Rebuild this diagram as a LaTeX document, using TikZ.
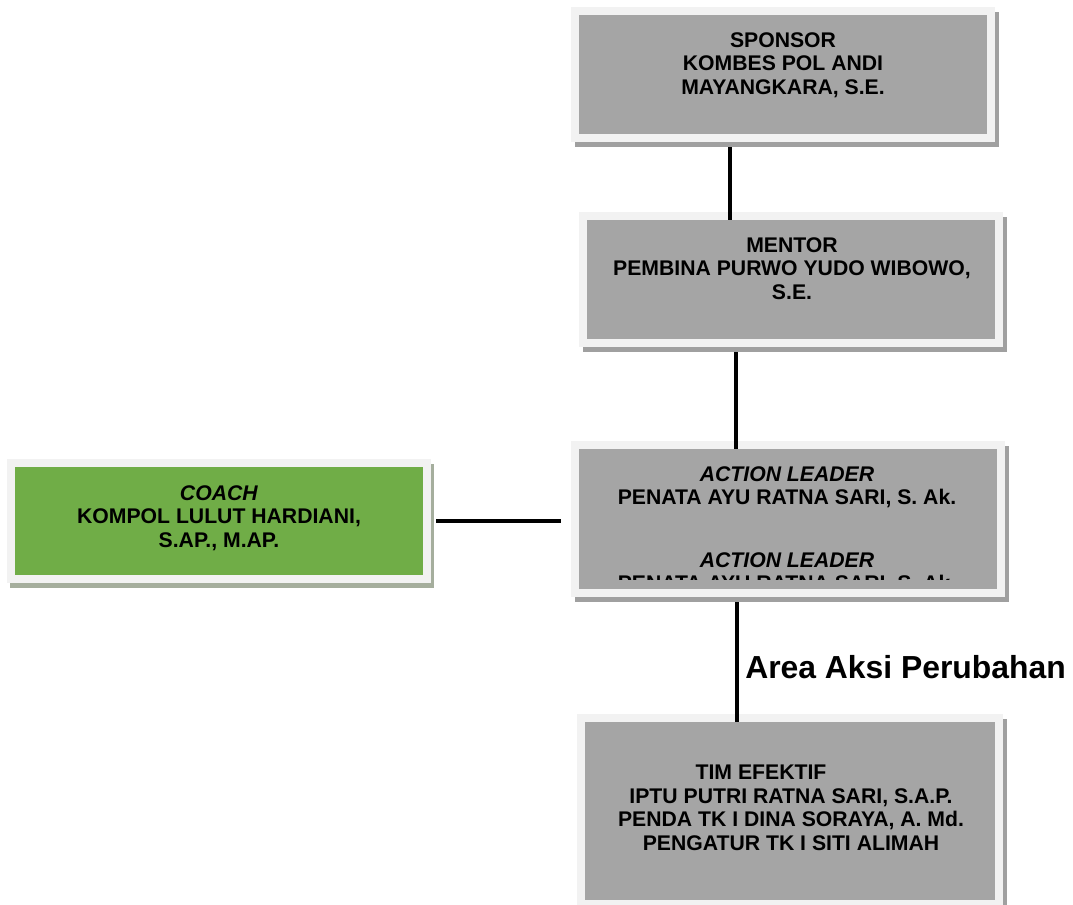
\documentclass[tikz,border=0pt]{standalone}
\usepackage{fontspec}
\setmainfont{Liberation Sans}
\usetikzlibrary{fit}
\definecolor{framegray}{HTML}{F2F2F2}
\definecolor{fillgray}{HTML}{A5A5A5}
\definecolor{shadegray}{HTML}{A0A0A0}
\definecolor{coachgreen}{HTML}{70AD47}
\definecolor{coachshade}{HTML}{A5AE9D}
\begin{document}
\begin{tikzpicture}[x=0.75pt,y=-0.75pt,
  shadowbox/.style={fill=shadegray, draw=none, inner sep=0pt, outer sep=0pt},
  framebox/.style={fill=framegray, draw=none, inner sep=0pt, outer sep=0pt},
  infill/.style={fill=fillgray, draw=none, inner sep=0pt, outer sep=0pt},
  boxtext/.style={anchor=north, inner sep=0pt, align=center, text=black,
    font=\fontsize{15.9}{17.6}\selectfont\bfseries},
  conn/.style={draw=black, line width=3pt},
  arealabel/.style={anchor=base west, inner sep=0pt,
    font=\fontsize{23.9}{27}\selectfont\bfseries}
]
\useasboundingbox (0,0) rectangle (1073,904);
\fill[white] (0,0) rectangle (1073,904);

% Sponsor
\node[shadowbox, fit={(575,12)(999,147)}] (sponsorsh) {};
\node[framebox, fit={(571,7)(995,142)}] (sponsor) {};
\node[infill, fit={(579,15)(987,134)}] (sponsorin) {};
\node[boxtext] (sponsortxt) at (783,32) {SPONSOR\\KOMBES POL ANDI\\MAYANGKARA, S.E.};

% Mentor
\node[shadowbox, fit={(583,217)(1007,352)}] (mentorsh) {};
\node[framebox, fit={(579,212)(1003,347)}] (mentor) {};
\node[infill, fit={(587,220)(995,339)}] (mentorin) {};
\node[boxtext] (mentortxt) at (792,237) {MENTOR\\PEMBINA PURWO YUDO WIBOWO,\\S.E.};

% Action leader
\node[shadowbox, fit={(575,446)(1009,602)}] (leadersh) {};
\node[framebox, fit={(571,441)(1005,597)}] (leader) {};
\node[infill, fit={(579,449)(997,589)}] (leaderin) {};
\begin{scope}
  \clip (579,449) rectangle (997,579);
  \node[boxtext] (leadertxta) at (787,466) {\textit{ACTION LEADER}\\PENATA AYU RATNA SARI, S. Ak.};
  \node[boxtext] (leadertxtb) at (787,552) {\textit{ACTION LEADER}\\PENATA AYU RATNA SARI, S. Ak.};
\end{scope}

% Coach
\node[fill=coachshade, draw=none, inner sep=0pt, outer sep=0pt, fit={(10,464)(434,588)}] (coachsh) {};
\node[framebox, fit={(7,459)(431,583)}] (coach) {};
\node[fill=coachgreen, draw=none, inner sep=0pt, outer sep=0pt, fit={(15,467)(423,575)}] (coachin) {};
\node[boxtext] (coachtxt) at (219,485) {\textit{COACH}\\KOMPOL LULUT HARDIANI,\\S.AP., M.AP.};

% Tim efektif
\node[shadowbox, fit={(581,719)(1007,913)}] (timsh) {};
\node[framebox, fit={(577,714)(1003,908)}] (tim) {};
\node[infill, fit={(585,722)(995,900)}] (timin) {};
\node[boxtext] (timtxt) at (791,765) {TIM EFEKTIF\hspace*{45pt}\\IPTU PUTRI RATNA SARI, S.A.P.\\PENDA TK I DINA SORAYA, A. Md.\\PENGATUR TK I SITI ALIMAH};

% Connectors
\draw[conn] (sponsorsh.south -| 730,0) -- (mentorin.north -| 730,0);
\draw[conn] (mentorsh.south -| 736,0) -- (leaderin.north -| 736,0);
\draw[conn] (leadersh.south -| 737,0) -- (timin.north -| 737,0);
\draw[conn, shorten <=1.5pt, shorten >=7.5pt] (coachsh.east |- 0,521) -- (leader.west |- 0,521);

% Label
\node[arealabel] (area) at (745,678) {Area Aksi Perubahan};
\end{tikzpicture}
\end{document}
